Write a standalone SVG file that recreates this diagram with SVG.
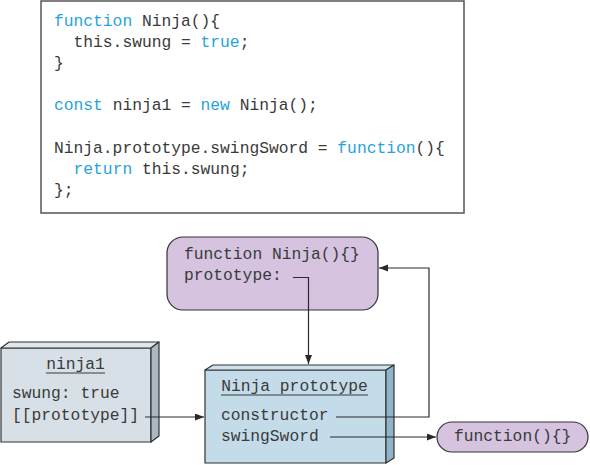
<svg xmlns="http://www.w3.org/2000/svg" width="590" height="465" viewBox="0 0 590 465">
<style>
text{font-family:"Liberation Mono","Courier New",monospace;font-size:16.3px;fill:#3a3a3a}
.kw{fill:#27a3dc}
.edge{fill:none;stroke:#2a2a2a;stroke-width:1.2}
.outline{stroke:#333;stroke-width:1.2;stroke-linejoin:round}
.purple{fill:#d5c3e0}
.ul{stroke:#3a3a3a;stroke-width:1}
</style>
<defs>
<marker id="arr" markerUnits="userSpaceOnUse" markerWidth="10" markerHeight="8" refX="9" refY="3.5" orient="auto">
<path d="M0,0 L9,3.5 L0,7 z" fill="#2a2a2a"/>
</marker>
</defs>
<rect width="590" height="465" fill="#ffffff"/>

<g id="code">
<rect x="41" y="1" width="423" height="212" fill="#fff" stroke="#555" stroke-width="1.5"/>
<text x="54" y="25.5" xml:space="preserve"><tspan class="kw">function</tspan> Ninja(){</text>
<text x="54" y="46.7" xml:space="preserve">  this.swung = <tspan class="kw">true</tspan>;</text>
<text x="54" y="67.9">}</text>
<text x="54" y="110.3" xml:space="preserve"><tspan class="kw">const</tspan> ninja1 = <tspan class="kw">new</tspan> Ninja();</text>
<text x="54" y="152.7" xml:space="preserve">Ninja.prototype.swingSword = <tspan class="kw">function</tspan>(){</text>
<text x="54" y="173.9" xml:space="preserve">  <tspan class="kw">return</tspan> this.swung;</text>
<text x="54" y="195.1">};</text>
</g>

<g id="ninja-function">
<rect x="167" y="237" width="211" height="73" rx="16" ry="16" class="purple outline"/>
<text x="184" y="259">function Ninja(){}</text>
<text x="184" y="280">prototype:</text>
</g>

<g id="ninja1">
<rect x="1" y="348" width="150" height="94" fill="#d8e0e7" class="outline"/>
<polygon points="1,348 9,342 159,342 151,348" fill="#dfe6ec" class="outline"/>
<polygon points="151,348 159,342 159,436 151,442" fill="#a9b8c3" class="outline"/>
<text x="75.5" y="369" text-anchor="middle">ninja1</text>
<line x1="46" y1="373" x2="105" y2="373" class="ul"/>
<text x="12" y="398">swung: true</text>
<text x="12" y="420">[[prototype]]</text>
</g>

<g id="ninja-prototype">
<rect x="205" y="370" width="181" height="93" fill="#c4dce9" class="outline"/>
<polygon points="205,370 213,365 394,365 386,370" fill="#cfe3ee" class="outline"/>
<polygon points="386,370 394,365 394,458 386,463" fill="#8fb4ca" class="outline"/>
<text x="294.5" y="391" text-anchor="middle">Ninja prototype</text>
<line x1="221" y1="395" x2="368" y2="395" class="ul"/>
<text x="221" y="420">constructor</text>
<text x="221" y="441">swingSword</text>
</g>

<g id="anon-function">
<rect x="437" y="422" width="151" height="30" rx="15" ry="15" class="purple outline"/>
<text x="454" y="441">function(){}</text>
</g>

<g id="connectors">
<path d="M145,417 H204" class="edge" marker-end="url(#arr)"/>
<path d="M293,277.5 H308.5 V364" class="edge" marker-end="url(#arr)"/>
<path d="M336,417 H429 V268 H379" class="edge" marker-end="url(#arr)"/>
<path d="M330,437 H436" class="edge" marker-end="url(#arr)"/>
</g>
</svg>
